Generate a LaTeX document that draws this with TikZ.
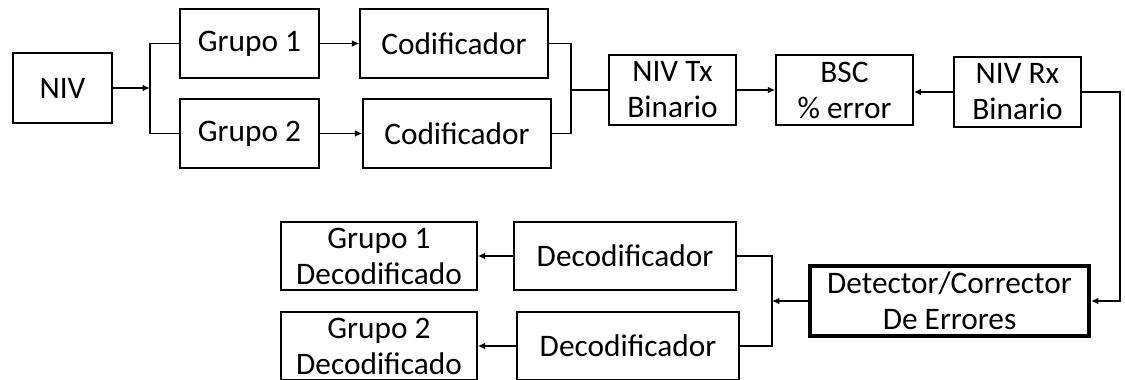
\documentclass[tikz,border=0pt]{standalone}
\usepackage{fontspec}
\setmainfont{Carlito}
\usetikzlibrary{arrows.meta}
\tikzset{
  box/.style={draw, line width=1.1pt, inner sep=0pt, align=center, font=\fontsize{23.5}{27}\selectfont},
  thickbox/.style={box, line width=3pt},
  conn/.style={line width=1.1pt},
  arr/.style={conn, -{Latex[length=5.5pt,width=5pt]}}
}
\begin{document}
\begin{tikzpicture}[x=0.75pt,y=-0.75pt]
\useasboundingbox (0,0) rectangle (1125,379);
\clip (0,0) rectangle (1125,379);
\fill[white] (0,0) rectangle (1125,379);
% top row
\node[box, minimum width=74.25pt, minimum height=52.5pt] (niv) at (62.5,88) {NIV};
\node[box, minimum width=104.25pt, minimum height=51.75pt] (g1) at (249.5,43.5) {Grupo 1};
\node[box, minimum width=104.25pt, minimum height=51.75pt] (g2) at (249.5,133.5) {Grupo 2};
\node[box, minimum width=141pt, minimum height=51.75pt] (c1) at (454,43.5) {Codificador};
\node[box, minimum width=141pt, minimum height=51.75pt] (c2) at (457,133.5) {Codificador};
\node[box, minimum width=95.25pt, minimum height=52.5pt] (tx) at (672.5,90) {NIV Tx\\Binario};
\node[box, minimum width=102.75pt, minimum height=52.5pt] (bsc) at (844.5,90) {BSC\\\% error};
\node[box, minimum width=95.25pt, minimum height=52.5pt] (rx) at (1017.5,92) {NIV Rx\\Binario};
% bottom
\node[thickbox, minimum width=209.25pt, minimum height=52.5pt] (det) at (949.5,301) {Detector/Corrector\\De Errores};
\node[box, minimum width=166.5pt, minimum height=51pt] (d1) at (625,256) {Decodificador};
\node[box, minimum width=166.5pt, minimum height=51pt] (d2) at (628,346) {Decodificador};
\node[box, minimum width=147pt, minimum height=51pt] (gd1) at (379,256) {Grupo 1\\Decodificado};
\node[box, minimum width=147pt, minimum height=51pt] (gd2) at (379,346) {Grupo 2\\Decodificado};
% junction coordinates
\coordinate (j1) at (150,88);
\coordinate (j1a) at (150,43.5);
\coordinate (j1b) at (150,133.5);
\coordinate (j2a) at (571,43.5);
\coordinate (j2b) at (571,133.5);
\coordinate (j2) at (571,90);
\coordinate (r1) at (1120,92);
\coordinate (r2) at (1120,301);
\coordinate (j3) at (772,301);
\coordinate (j3a) at (772,256);
\coordinate (j3b) at (772,346);
% connectors
\draw[arr] (niv.east) -- (j1);
\draw[conn] (g1.west) -- (j1a) -- (j1b) -- (g2.west);
\draw[arr] (g1.east) -- (c1.west);
\draw[arr] (g2.east) -- (c2.west);
\draw[conn] (c1.east) -- (j2a) -- (j2b) -- (c2.east);
\draw[conn] (j2) -- (tx.west);
\draw[arr] (tx.east) -- (bsc.west |- tx.east);
\draw[arr] (rx.west) -- (bsc.east |- rx.west);
\draw[arr] (rx.east) -- (r1) -- (r2) -- (det.east);
\draw[arr] (det.west) -- (j3);
\draw[conn] (d1.east) -- (j3a) -- (j3b) -- (d2.east);
\draw[arr] (d1.west) -- (gd1.east);
\draw[arr] (d2.west) -- (gd2.east);
\end{tikzpicture}
\end{document}
